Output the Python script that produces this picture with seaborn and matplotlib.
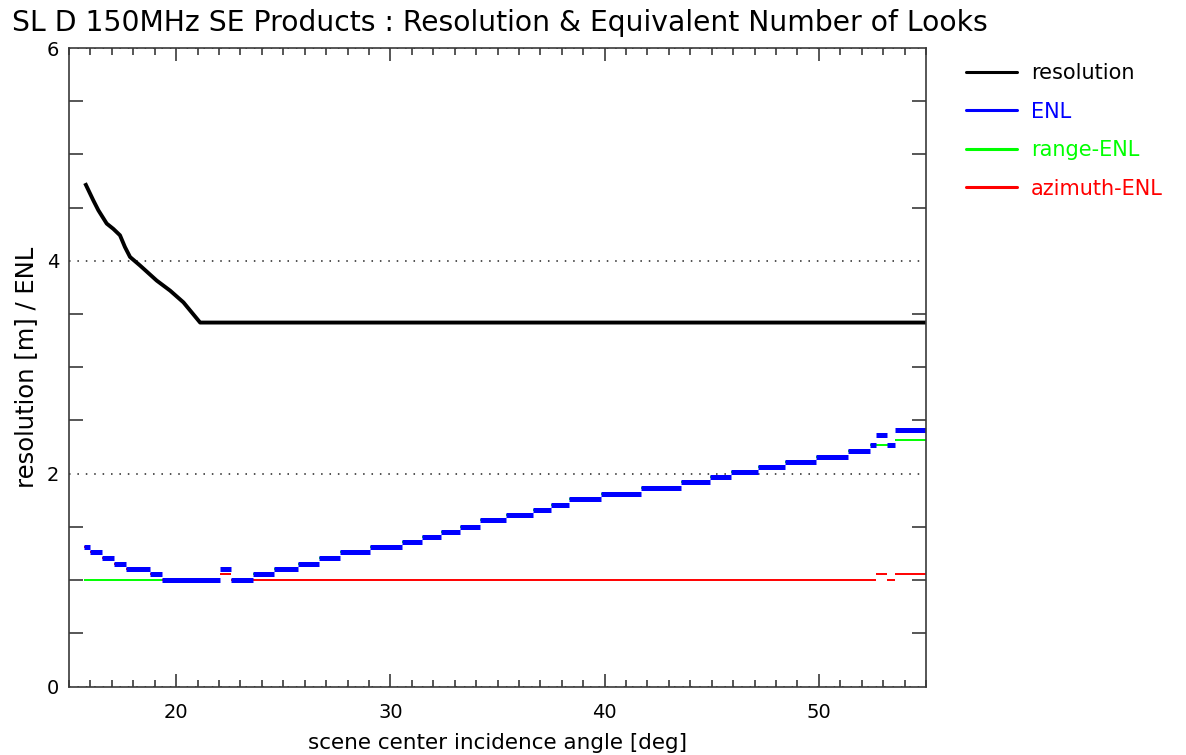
import numpy as np
import pandas as pd
import matplotlib
matplotlib.use("Agg")
import matplotlib.pyplot as plt
from matplotlib.lines import Line2D
from matplotlib.ticker import MultipleLocator
import seaborn as sns

# Resolution versus scene centre incidence angle
res_angle = [15.75, 16.13, 16.37, 16.76, 17.07, 17.38, 17.61, 17.85, 18.31,
             19.09, 19.72, 20.34, 21.12, 55.0]
res_value = [4.73, 4.57, 4.475, 4.35, 4.30, 4.24, 4.13, 4.036, 3.957,
             3.815, 3.72, 3.61, 3.42, 3.42]

# Step boundaries (deg) shared by the look-number series
step_edges = [15.72, 15.98, 16.52, 17.10, 17.65, 18.80, 19.34, 22.05, 22.57,
              23.59, 24.59, 25.69, 26.68, 27.67, 29.05, 30.56, 31.47, 32.36,
              33.27, 34.16, 35.42, 36.67, 37.51, 38.35, 39.85, 41.71, 43.56,
              44.90, 45.91, 47.16, 48.42, 49.88, 51.36, 52.38, 52.67, 53.20,
              53.53, 55.0]

enl = [1.31, 1.26, 1.21, 1.15, 1.105, 1.054, 1.0, 1.105, 1.0, 1.054, 1.105,
       1.152, 1.211, 1.261, 1.308, 1.359, 1.406, 1.453, 1.503, 1.563, 1.614,
       1.661, 1.708, 1.758, 1.805, 1.868, 1.918, 1.965, 2.012, 2.059, 2.109,
       2.157, 2.217, 2.267, 2.364, 2.267, 2.411]

range_enl = [1.0, 1.0, 1.0, 1.0, 1.0, 1.0, 1.0, 1.054, 1.0, 1.054, 1.105,
             1.152, 1.211, 1.261, 1.308, 1.359, 1.406, 1.453, 1.503, 1.563,
             1.614, 1.661, 1.708, 1.758, 1.805, 1.868, 1.918, 1.965, 2.012,
             2.059, 2.109, 2.157, 2.217, 2.267, 2.267, 2.267, 2.317]

azimuth_enl = [1.31, 1.26, 1.21, 1.15, 1.105, 1.054, 1.0, 1.054, 1.0, 1.0,
               1.0, 1.0, 1.0, 1.0, 1.0, 1.0, 1.0, 1.0, 1.0, 1.0, 1.0, 1.0,
               1.0, 1.0, 1.0, 1.0, 1.0, 1.0, 1.0, 1.0, 1.0, 1.0, 1.0, 1.0,
               1.054, 1.0, 1.054]

series_names = ["resolution", "ENL", "range-ENL", "azimuth-ENL"]
series_colors = ["#000000", "#0000ff", "#00ff00", "#ff0000"]

y_major = [0, 2, 4, 6]
x_major = [20, 30, 40, 50]


def steps_frame(values):
    rows = []
    for i, v in enumerate(values):
        rows.append((step_edges[i], v, i))
        rows.append((step_edges[i + 1], v, i))
    return pd.DataFrame(rows, columns=["angle", "value", "seg"])


sns.set_style("ticks")
plt.rcParams["font.family"] = ["DejaVu Sans"]
plt.rcParams["text.color"] = "black"
plt.rcParams["axes.labelcolor"] = "black"
plt.rcParams["xtick.labelcolor"] = "black"
plt.rcParams["ytick.labelcolor"] = "black"

fig = plt.figure(figsize=(11.86, 7.55), dpi=100)
ax = fig.add_axes([69 / 1186, 1 - 686.5 / 755, (926 - 69) / 1186, (686.5 - 48) / 755])

# Dotted reference lines at the labelled levels
ax.set_yticks(y_major)
ax.grid(axis="y", which="major", linestyle=(0, (1, 4.5)), color="#222222",
        linewidth=1.1)
ax.grid(axis="x", visible=False)

thin = dict(linewidth=1.4, solid_capstyle="butt")
sns.lineplot(data=steps_frame(range_enl), x="angle", y="value", units="seg",
             estimator=None, color=series_colors[2], ax=ax, **thin)
sns.lineplot(data=steps_frame(azimuth_enl), x="angle", y="value", units="seg",
             estimator=None, color=series_colors[3], ax=ax, **thin)
sns.lineplot(data=steps_frame(enl), x="angle", y="value", units="seg",
             estimator=None, color=series_colors[1], ax=ax,
             linewidth=3.6, solid_capstyle="butt")
sns.lineplot(x=res_angle, y=res_value, color=series_colors[0], ax=ax,
             linewidth=2.8, solid_capstyle="butt")

ax.set_xlim(15, 55)
ax.set_ylim(0, 6)
ax.set_xticks(x_major)
ax.xaxis.set_minor_locator(MultipleLocator(1))
ax.yaxis.set_minor_locator(MultipleLocator(0.5))

edge = "#3a3a3a"
for s in ax.spines.values():
    s.set_visible(True)
    s.set_color(edge)
    s.set_linewidth(1.2)

ax.tick_params(axis="x", which="major", direction="in", length=9.5, width=1.2,
               top=True, bottom=True, color=edge, labelsize=14, pad=12)
ax.tick_params(axis="x", which="minor", direction="in", length=5, width=1.2,
               top=True, bottom=True, color=edge)
ax.tick_params(axis="y", which="major", direction="in", length=0,
               left=True, right=True, labelsize=14, pad=7)
ax.tick_params(axis="y", which="minor", direction="in", length=10, width=1.2,
               left=True, right=True, color=edge)

ax.set_xlabel("scene center incidence angle [deg]", fontsize=15.5, labelpad=8)
ax.set_ylabel("resolution [m] / ENL", fontsize=17.5, labelpad=6)

fig.text(12 / 1186, 1 - 23 / 755, "SL D 150MHz SE Products : Resolution & "
         "Equivalent Number of Looks", fontsize=20.3, ha="left", va="center")

handles = [Line2D([], [], color=c, linewidth=2.2) for c in series_colors]
fig.legend(handles, series_names, loc="upper left",
           bbox_to_anchor=(966 / 1186, 1 - 63 / 755), frameon=False,
           fontsize=15, handlelength=2.45, handletextpad=0.67,
           labelspacing=0.89, borderpad=0, borderaxespad=0,
           labelcolor=series_colors)

fig.savefig("out.png", dpi=100)
